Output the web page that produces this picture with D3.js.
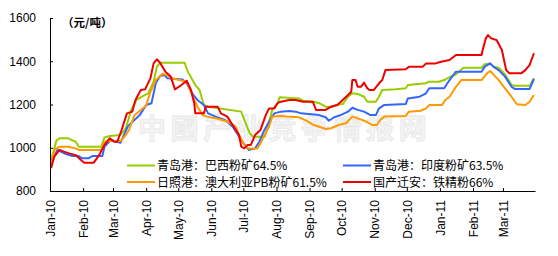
<!DOCTYPE html>
<html><head><meta charset="utf-8">
<script src="https://cdn.jsdelivr.net/npm/d3@7"></script>
<style>
html,body{margin:0;padding:0;background:#fff;}
svg{display:block;}
</style></head>
<body>
<script>
// ---------- DATA ----------
const seriesNames = ["青岛港：巴西粉矿64.5%", "青岛港：印度粉矿63.5%", "日照港：澳大利亚PB粉矿61.5%", "国产迁安：铁精粉66%"];
const seriesColors = ["#99cc00", "#3366ff", "#ff9900", "#ee0000"];

const qingdaoBrazil = [["2010-01-02",943],["2010-01-07",1033],["2010-01-10",1044],["2010-01-18",1044],["2010-01-21",1036],["2010-01-25",1028],["2010-01-28",1005],["2010-02-18",1005],["2010-02-21",1048],["2010-02-26",1054],["2010-03-08",1059],["2010-03-13",1090],["2010-03-18",1175],["2010-03-23",1221],["2010-03-28",1236],["2010-04-03",1252],["2010-04-08",1305],["2010-04-11",1375],["2010-04-14",1393],["2010-05-07",1393],["2010-05-10",1352],["2010-05-17",1290],["2010-05-21",1267],["2010-05-25",1198],["2010-05-29",1190],["2010-06-29",1167],["2010-07-02",1128],["2010-07-07",1067],["2010-07-10",1051],["2010-07-21",1051],["2010-07-24",1097],["2010-07-28",1175],["2010-08-02",1206],["2010-08-04",1233],["2010-08-22",1228],["2010-08-26",1217],["2010-09-05",1213],["2010-09-10",1206],["2010-09-16",1190],["2010-09-21",1187],["2010-09-26",1198],["2010-10-02",1202],["2010-10-07",1236],["2010-10-11",1252],["2010-10-16",1249],["2010-10-22",1236],["2010-10-25",1213],["2010-11-02",1213],["2010-11-05",1236],["2010-11-08",1267],["2010-11-21",1270],["2010-11-30",1275],["2010-12-02",1290],["2010-12-19",1298],["2010-12-21",1305],["2010-12-31",1305],["2011-01-05",1313],["2011-01-11",1329],["2011-01-16",1340],["2011-01-23",1370],["2011-02-09",1370],["2011-02-12",1386],["2011-02-17",1390],["2011-02-20",1375],["2011-02-25",1370],["2011-03-03",1339],["2011-03-09",1290],["2011-03-12",1287],["2011-03-26",1287],["2011-03-30",1321]];

const qingdaoIndia = [["2010-01-02",935],["2010-01-08",990],["2010-01-11",982],["2010-01-16",971],["2010-01-22",962],["2010-01-28",962],["2010-01-31",951],["2010-02-06",951],["2010-02-10",962],["2010-02-19",962],["2010-02-21",1005],["2010-02-27",1036],["2010-03-08",1023],["2010-03-15",1100],["2010-03-26",1151],["2010-04-01",1198],["2010-04-06",1206],["2010-04-10",1298],["2010-04-14",1332],["2010-04-18",1336],["2010-04-21",1321],["2010-05-05",1316],["2010-05-09",1298],["2010-05-14",1252],["2010-05-19",1221],["2010-05-25",1198],["2010-05-29",1159],["2010-06-05",1144],["2010-06-14",1128],["2010-06-21",1097],["2010-06-25",1067],["2010-06-30",1028],["2010-07-06",990],["2010-07-12",997],["2010-07-16",1028],["2010-07-20",1075],["2010-07-25",1120],["2010-07-30",1159],["2010-08-05",1167],["2010-08-13",1170],["2010-08-19",1167],["2010-08-24",1159],["2010-09-10",1151],["2010-09-16",1141],["2010-09-19",1125],["2010-09-24",1141],["2010-09-30",1151],["2010-10-07",1167],["2010-10-11",1185],["2010-10-16",1175],["2010-10-22",1167],["2010-10-28",1151],["2010-11-02",1151],["2010-11-05",1182],["2010-11-10",1198],["2010-11-30",1202],["2010-12-02",1228],["2010-12-13",1236],["2010-12-19",1252],["2010-12-22",1275],["2011-01-05",1275],["2011-01-08",1298],["2011-01-10",1313],["2011-01-16",1352],["2011-02-09",1352],["2011-02-12",1375],["2011-02-17",1390],["2011-02-20",1375],["2011-02-25",1359],["2011-03-03",1329],["2011-03-09",1282],["2011-03-12",1272],["2011-03-26",1272],["2011-03-30",1318]];

const rizhaoAustralia = [["2010-01-02",912],["2010-01-05",990],["2010-01-10",1005],["2010-01-18",1005],["2010-01-25",997],["2010-01-28",990],["2010-02-18",990],["2010-02-21",1028],["2010-02-28",1031],["2010-03-08",1031],["2010-03-13",1059],["2010-03-16",1082],["2010-03-21",1150],["2010-03-26",1170],["2010-04-01",1195],["2010-04-05",1259],["2010-04-10",1313],["2010-04-12",1321],["2010-04-16",1341],["2010-04-21",1336],["2010-04-25",1321],["2010-05-05",1310],["2010-05-09",1305],["2010-05-14",1244],["2010-05-19",1190],["2010-05-24",1151],["2010-05-28",1144],["2010-06-05",1136],["2010-06-17",1120],["2010-06-24",1097],["2010-06-27",1059],["2010-07-02",1013],["2010-07-05",997],["2010-07-14",997],["2010-07-17",1020],["2010-07-20",1051],["2010-07-25",1097],["2010-07-28",1144],["2010-08-05",1147],["2010-08-10",1144],["2010-08-22",1141],["2010-08-28",1128],["2010-09-05",1105],["2010-09-10",1097],["2010-09-16",1087],["2010-09-21",1090],["2010-09-28",1105],["2010-10-05",1113],["2010-10-11",1144],["2010-10-16",1136],["2010-10-22",1125],["2010-10-27",1113],["2010-10-30",1105],["2010-11-03",1105],["2010-11-06",1128],["2010-11-10",1144],["2010-11-30",1147],["2010-12-03",1167],["2010-12-14",1171],["2010-12-19",1182],["2010-12-22",1198],["2011-01-03",1198],["2011-01-06",1221],["2011-01-10",1236],["2011-01-16",1282],["2011-01-21",1313],["2011-02-09",1313],["2011-02-14",1344],["2011-02-17",1355],["2011-02-20",1339],["2011-02-25",1313],["2011-03-03",1275],["2011-03-09",1236],["2011-03-14",1201],["2011-03-22",1198],["2011-03-26",1213],["2011-03-30",1244]];

const qiananConcentrate = [["2010-01-02",905],["2010-01-05",959],["2010-01-10",990],["2010-01-14",982],["2010-01-19",974],["2010-01-25",966],["2010-01-30",943],["2010-02-02",931],["2010-02-11",931],["2010-02-16",966],["2010-02-21",1013],["2010-02-26",1044],["2010-03-02",1028],["2010-03-05",1028],["2010-03-09",1082],["2010-03-14",1159],["2010-03-19",1167],["2010-03-22",1221],["2010-03-27",1267],["2010-03-31",1270],["2010-04-05",1321],["2010-04-08",1390],["2010-04-11",1409],["2010-04-14",1393],["2010-04-19",1352],["2010-04-24",1329],["2010-04-28",1270],["2010-05-04",1290],["2010-05-09",1310],["2010-05-13",1267],["2010-05-16",1206],["2010-05-17",1159],["2010-05-25",1159],["2010-05-27",1190],["2010-06-07",1190],["2010-06-10",1159],["2010-06-16",1144],["2010-06-19",1120],["2010-06-22",1097],["2010-06-27",1059],["2010-06-29",1005],["2010-07-02",997],["2010-07-05",1013],["2010-07-08",1013],["2010-07-12",1059],["2010-07-17",1082],["2010-07-22",1151],["2010-07-25",1182],["2010-07-30",1182],["2010-08-02",1206],["2010-08-05",1213],["2010-08-13",1221],["2010-08-19",1221],["2010-08-26",1213],["2010-09-04",1213],["2010-09-07",1175],["2010-09-16",1175],["2010-09-21",1190],["2010-09-27",1198],["2010-10-02",1221],["2010-10-07",1244],["2010-10-10",1259],["2010-10-11",1313],["2010-10-14",1313],["2010-10-16",1282],["2010-10-19",1282],["2010-10-22",1301],["2010-10-25",1275],["2010-10-27",1267],["2010-10-31",1267],["2010-11-05",1298],["2010-11-08",1313],["2010-11-11",1359],["2010-11-30",1363],["2010-12-03",1375],["2010-12-16",1375],["2010-12-19",1390],["2010-12-28",1390],["2011-01-02",1398],["2011-01-10",1406],["2011-01-16",1429],["2011-02-09",1429],["2011-02-10",1452],["2011-02-13",1506],["2011-02-15",1521],["2011-02-18",1506],["2011-02-23",1498],["2011-02-28",1452],["2011-03-01",1429],["2011-03-04",1359],["2011-03-07",1344],["2011-03-18",1344],["2011-03-22",1359],["2011-03-26",1383],["2011-03-30",1437]];

const yTickValues = [800, 1000, 1200, 1400, 1600];
const xTickLabels = ["Jan-10","Feb-10","Mar-10","Apr-10","May-10","Jun-10","Jul-10","Aug-10","Sep-10","Oct-10","Nov-10","Dec-10","Jan-11","Feb-11","Mar-11"];
const unitLabel = "（元/吨）";
const watermarkText = "中國产业竞争情报网";

// ---------- CHART ----------
const W = 558, H = 256;
const parse = d3.utcParse("%Y-%m-%d");
const svg = d3.select("body").append("svg").attr("width", W).attr("height", H);

const x = d3.scaleUtc().domain([parse("2010-01-01"), parse("2011-03-31")]).range([50, 535]);
const y = d3.scaleLinear().domain([800, 1600]).range([191, 18]);

// watermark
svg.append("text")
  .attr("x", 138).attr("y", 139)
  .attr("font-family", "Noto Sans CJK SC")
  .attr("font-size", 28).attr("font-weight", "bold")
  .attr("letter-spacing", 4.6)
  .attr("fill", "#f4f4f4").attr("stroke", "#e8e8e8").attr("stroke-width", 0.8)
  .text(watermarkText);

// lines
const allSeries = [qingdaoBrazil, qingdaoIndia, rizhaoAustralia, qiananConcentrate];
const line = d3.line().x(d => x(parse(d[0]))).y(d => y(d[1]));
allSeries.forEach((s, i) => {
  svg.append("path").datum(s)
    .attr("d", line)
    .attr("fill", "none")
    .attr("stroke", seriesColors[i])
    .attr("stroke-width", 2)
    .attr("stroke-linejoin", "round");
});

// axes
const monthTicks = d3.utcMonth.range(parse("2010-01-01"), parse("2011-04-01"));
const xAxis = d3.axisBottom(x).tickValues(monthTicks)
  .tickFormat((d, i) => xTickLabels[i]).tickSizeInner(-3).tickSizeOuter(0);
const gx = svg.append("g").attr("transform", "translate(0,191)").call(xAxis);
gx.selectAll("text")
  .attr("font-family", "Liberation Sans, Arial, sans-serif").attr("font-size", 12)
  .attr("fill", "#000")
  .attr("transform", "rotate(-90)")
  .attr("text-anchor", "end")
  .attr("x", -9).attr("y", 0).attr("dy", "0.35em");

const yAxis = d3.axisLeft(y).tickValues(yTickValues).tickFormat(d3.format("d"))
  .tickSizeInner(-3).tickSizeOuter(0).tickPadding(14);
const gy = svg.append("g").attr("transform", "translate(50,0)").call(yAxis);
gy.selectAll("text").attr("font-family", "Liberation Sans, Arial, sans-serif").attr("font-size", 12).attr("fill", "#000");
svg.selectAll(".domain, .tick line").attr("stroke", "#000");

// unit label
svg.append("text").attr("x", 62).attr("y", 27)
  .attr("font-family", "Noto Sans CJK SC").attr("font-size", 11.5).attr("font-weight", "bold")
  .text(unitLabel);

// legend
const legendPos = [[127, 165.5], [343, 165.5], [127, 182], [343, 182]];
seriesNames.forEach((name, i) => {
  const [lx, ly] = legendPos[i];
  svg.append("line").attr("x1", lx).attr("x2", lx + 28).attr("y1", ly).attr("y2", ly)
    .attr("stroke", seriesColors[i]).attr("stroke-width", 2);
  svg.append("text").attr("x", lx + 30).attr("y", ly).attr("dy", "0.38em")
    .attr("font-family", "Noto Sans CJK SC").attr("font-size", 12).attr("fill", "#000")
    .text(name);
});
</script>
</body></html>
